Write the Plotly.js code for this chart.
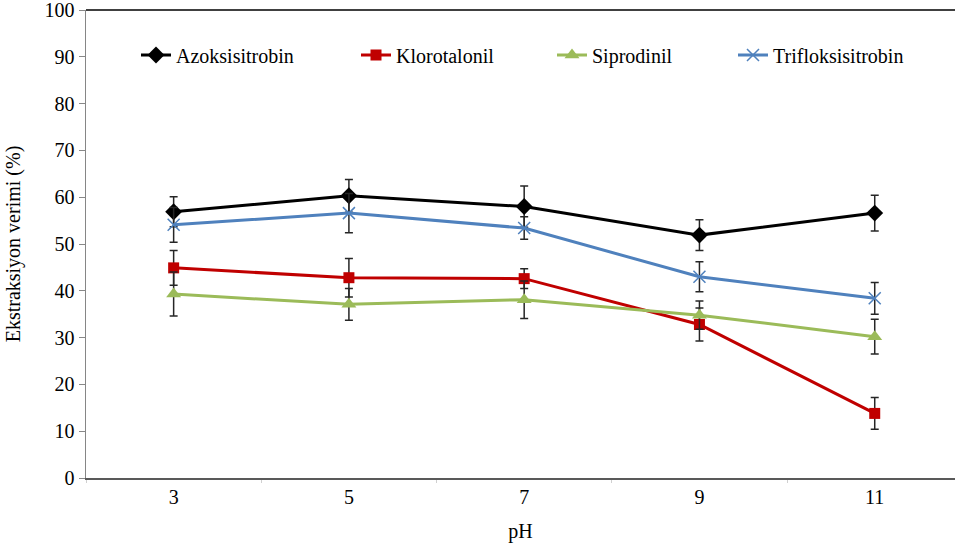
<!DOCTYPE html>
<html>
<head>
<meta charset="utf-8">
<script src="https://cdn.plot.ly/plotly-3.0.1.min.js"></script>
<style>html,body{margin:0;padding:0;background:#fff;}#chart{width:955px;height:552px;}</style>
</head>
<body>
<div id="chart"></div>
<script>
// Data
const ph = ['3', '5', '7', '9', '11'];
const azoksisitrobin = [56.9, 60.3, 58.0, 51.9, 56.6];
const azoksisitrobinErr = [3.2, 3.5, 4.4, 3.3, 3.8];
const klorotalonil = [44.9, 42.8, 42.6, 32.8, 13.8];
const klorotalonilErr = [3.7, 4.1, 2.1, 3.5, 3.4];
const siprodinil = [39.3, 37.1, 38.1, 34.8, 30.2];
const siprodinilErr = [4.7, 3.4, 4.0, 3.0, 3.7];
const trifloksisitrobin = [54.1, 56.6, 53.4, 43.0, 38.4];
const trifloksisitrobinErr = [3.7, 4.2, 2.4, 3.2, 3.4];
const seriesNames = ['Azoksisitrobin', 'Klorotalonil', 'Siprodinil', 'Trifloksisitrobin'];

const FONT = 'Times New Roman, Liberation Serif, serif';
const FS = 20;
function errBar(arr) {
  return {type: 'data', array: arr, visible: true, color: '#262626', thickness: 1.5, width: 4};
}
const traces = [
  {x: ph, y: azoksisitrobin, name: seriesNames[0], legend: 'legend', mode: 'lines+markers',
   line: {color: '#000000', width: 3}, marker: {symbol: 'diamond', size: 13, color: '#000000'},
   error_y: errBar(azoksisitrobinErr)},
  {x: ph, y: klorotalonil, name: seriesNames[1], legend: 'legend2', mode: 'lines+markers',
   line: {color: '#C00000', width: 3}, marker: {symbol: 'square', size: 11, color: '#C00000'},
   error_y: errBar(klorotalonilErr)},
  {x: ph, y: siprodinil, name: seriesNames[2], legend: 'legend3', mode: 'lines+markers',
   line: {color: '#9BBB59', width: 3}, marker: {symbol: 'triangle-up', size: 13, color: '#9BBB59'},
   error_y: errBar(siprodinilErr)},
  {x: ph, y: trifloksisitrobin, name: seriesNames[3], legend: 'legend4', mode: 'lines+markers',
   line: {color: '#4F81BD', width: 3}, marker: {symbol: 'x-thin-open', size: 12, color: '#4F81BD', line: {color: '#4F81BD', width: 1.5}},
   error_y: errBar(trifloksisitrobinErr)}
];

// plot area: x 86..955 px, y 10..478 px
function leg(xpx) {
  return {orientation: 'h', xref: 'paper', yref: 'paper', x: (xpx - 86) / 869, y: (478 - 55) / 468,
          xanchor: 'left', yanchor: 'middle', bgcolor: 'rgba(0,0,0,0)', borderwidth: 0,
          font: {family: FONT, size: FS, color: '#000'}, itemwidth: 30};
}

const layout = {
  width: 955, height: 552,
  margin: {l: 86, r: 0, t: 10, b: 74},
  paper_bgcolor: '#ffffff', plot_bgcolor: '#ffffff',
  font: {family: FONT, size: FS, color: '#000'},
  showlegend: true,
  legend: leg(136), legend2: leg(356), legend3: leg(552), legend4: leg(733),
  xaxis: {
    type: 'category', range: [-0.5, 4.458], tickson: 'boundaries',
    ticks: 'outside', ticklen: 3, tickcolor: '#d0d0d0', tickwidth: 1,
    showline: true, linecolor: '#595959', linewidth: 2, showgrid: false, zeroline: false,
    tickfont: {family: FONT, size: FS, color: '#000'},
    title: {text: 'pH', font: {family: FONT, size: FS, color: '#000'}, standoff: 17}
  },
  yaxis: {
    range: [0, 100], dtick: 10, tick0: 0, ticklabeloverflow: 'allow',
    ticks: 'outside', ticklen: 6, tickcolor: '#888888', tickwidth: 1,
    showline: true, linecolor: '#868686', linewidth: 1.5, showgrid: false, zeroline: false,
    tickfont: {family: FONT, size: FS, color: '#000'},
    title: {text: 'Ekstraksiyon verimi (%)', font: {family: FONT, size: FS, color: '#000'}, standoff: 18}
  },
  shapes: [
    {type: 'line', xref: 'paper', yref: 'paper', x0: 0, x1: 1, y0: 1, y1: 1,
     line: {color: '#000000', width: 1.5}}
  ]
};

Plotly.newPlot('chart', traces, layout, {displayModeBar: false, staticPlot: true});
</script>
</body>
</html>
